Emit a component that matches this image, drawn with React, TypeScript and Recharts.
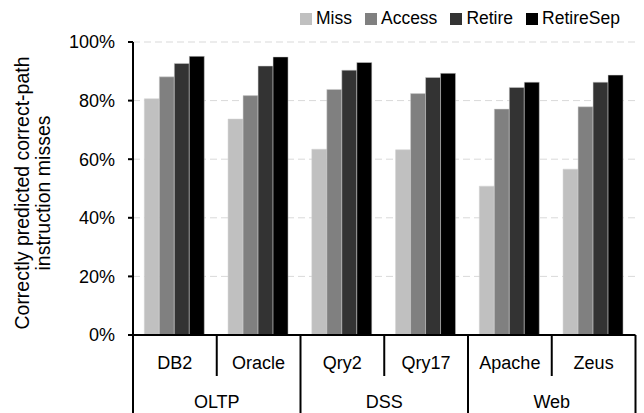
import { BarChart, Bar, XAxis, YAxis, CartesianGrid, Legend, Label } from "recharts";

const categories = ["DB2", "Oracle", "Qry2", "Qry17", "Apache", "Zeus"];
const groups = ["OLTP", "OLTP", "DSS", "DSS", "Web", "Web"];
const miss = [80.6, 73.7, 63.4, 63.2, 50.8, 56.6];
const access = [88.1, 81.7, 83.8, 82.4, 77.1, 77.9];
const retire = [92.7, 91.8, 90.4, 87.9, 84.5, 86.3];
const retireSep = [95.1, 94.9, 93.0, 89.3, 86.3, 88.7];
const yTicks = [0, 20, 40, 60, 80, 100];

const series = [
  { key: "Miss", color: "#c0c0c0" },
  { key: "Access", color: "#808080" },
  { key: "Retire", color: "#333333" },
  { key: "RetireSep", color: "#000000" },
];

const data = categories.map((name, i) => ({
  name,
  group: groups[i],
  Miss: miss[i],
  Access: access[i],
  Retire: retire[i],
  RetireSep: retireSep[i],
}));

const FONT = "'Liberation Sans', Arial, sans-serif";
const W = 644;
const H = 413;
const LEFT = 133;
const RIGHT = 8.5;
const TOP = 42;
const XAXIS_H = 78;
const band = (W - LEFT - RIGHT) / categories.length;

// two-row category axis: benchmark names, then workload groups, boxed in by separators
function GroupTick(props: any) {
  const { x, y, index, payload } = props;
  const grp = groups[index];
  const firstOfGroup = index === 0 || groups[index - 1] !== grp;
  const last = index === categories.length - 1;
  let groupSize = 0;
  for (let j = index; j < groups.length && groups[j] === grp; j++) groupSize++;
  const left = x - band / 2;
  return (
    <g>
      <text x={x} y={y + 28} dy="0.35em" textAnchor="middle" fontSize={18} fill="#000" fontFamily={FONT}>
        {payload.value}
      </text>
      <line x1={left} x2={left} y1={y} y2={firstOfGroup ? y + XAXIS_H : y + 41} stroke="#000" strokeWidth={2} />
      {last && (
        <line x1={x + band / 2} x2={x + band / 2} y1={y} y2={y + XAXIS_H} stroke="#000" strokeWidth={2} />
      )}
      {firstOfGroup && (
        <text x={left + (groupSize * band) / 2} y={y + 67} dy="0.35em" textAnchor="middle" fontSize={18} fill="#000" fontFamily={FONT}>
          {grp}
        </text>
      )}
    </g>
  );
}

function LegendBox() {
  return (
    <div style={{ display: "flex", alignItems: "center", fontFamily: FONT, fontSize: 17.5, color: "#000" }}>
      {series.map((s) => (
        <div key={s.key} style={{ display: "flex", alignItems: "center", marginRight: 13 }}>
          <span style={{ display: "inline-block", width: 12, height: 12, background: s.color, marginRight: 4 }} />
          <span>{s.key}</span>
        </div>
      ))}
    </div>
  );
}

function AxisTitle() {
  return (
    <text transform="rotate(-90, 29, 193)" x={29} y={193} textAnchor="middle" fontSize={19.5} fill="#000" fontFamily={FONT}>
      <tspan x={29} dy={0}>Correctly predicted correct-path</tspan>
      <tspan x={29} dy={21}>instruction misses</tspan>
    </text>
  );
}

export default function App() {
  return (
    <div style={{ position: "absolute", left: 0, top: 0, width: W, height: H, background: "#fff" }}>
      <BarChart
        width={W}
        height={H}
        data={data}
        margin={{ top: TOP, right: RIGHT, left: 0, bottom: 0 }}
        barCategoryGap="13.5%"
        barGap={0}
      >
        <CartesianGrid vertical={false} stroke="#d9d9d9" strokeDasharray="7 4" />
        <XAxis
          dataKey="name"
          height={XAXIS_H}
          tickSize={0}
          tickMargin={0}
          tickLine={false}
          axisLine={{ stroke: "#000", strokeWidth: 2 }}
          tick={<GroupTick />}
          interval={0}
        />
        <YAxis
          width={LEFT}
          domain={[0, 100]}
          ticks={yTicks}
          tickFormatter={(v: number) => `${v}%`}
          tickSize={5}
          tickMargin={13}
          axisLine={{ stroke: "#000", strokeWidth: 2 }}
          tickLine={{ stroke: "#000", strokeWidth: 2 }}
          tick={{ fontSize: 18, fill: "#000", fontFamily: FONT }}
        >
          <Label content={() => <AxisTitle />} />
        </YAxis>
        <Legend
          layout="horizontal"
          verticalAlign="middle"
          align="center"
          content={() => <LegendBox />}
          wrapperStyle={{ top: 8, left: 300, width: 344, height: 22 }}
        />
        {series.map((s) => (
          <Bar key={s.key} dataKey={s.key} fill={s.color} stroke="#d0d0d0" strokeWidth={0.5} isAnimationActive={false} />
        ))}
      </BarChart>
    </div>
  );
}
